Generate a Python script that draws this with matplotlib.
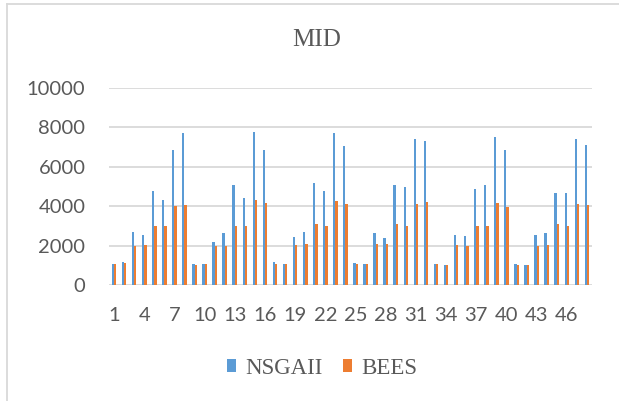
import matplotlib
matplotlib.use("Agg")
import matplotlib.pyplot as plt
from matplotlib.patches import Patch
from matplotlib.lines import Line2D
import numpy as np

categories = list(range(1, 49))
nsgaii = [1070, 1150, 2680, 2525, 4760, 4340, 6860, 7710,
          1050, 1070, 2190, 2660, 5100, 4420, 7760, 6860,
          1150, 1070, 2440, 2680, 5190, 4780, 7710, 7070,
          1100, 1070, 2630, 2370, 5080, 4980, 7410, 7290,
          1070, 1030, 2560, 2510, 4860, 5070, 7510, 6850,
          1050, 1030, 2525, 2660, 4660, 4690, 7390, 7100]
bees = [1050, 1100, 2000, 2030, 2980, 2980, 4020, 4070,
        1020, 1050, 2000, 1980, 2980, 3020, 4290, 4140,
        1070, 1070, 2030, 2070, 3080, 3020, 4270, 4100,
        1070, 1050, 2070, 2080, 3120, 3020, 4100, 4190,
        1070, 1020, 2030, 1980, 2980, 3020, 4150, 3950,
        1020, 1020, 1980, 2030, 3080, 3020, 4120, 4070]
tick_labels = [str(c) for c in categories[::3]]
yticks = [0, 2000, 4000, 6000, 8000, 10000]

W, H = 619, 401
fig = plt.figure(figsize=(W / 100, H / 100), dpi=100)
ax = fig.add_axes([109 / W, 1 - 285 / H, (592 - 109) / W, (285 - 88) / H])

x = np.array(categories, dtype=float)
bw = 0.23
ax.bar(x - bw / 2, nsgaii, width=bw, color="#5B9BD5", zorder=3)
ax.bar(x + bw / 2, bees, width=bw, color="#ED7D31", zorder=3)

ax.set_xlim(0.5, 48.5)
ax.set_ylim(0, 10000)
ax.set_yticks(yticks)
ax.set_yticklabels([str(v) for v in yticks])
ax.set_xticks(categories[::3])
ax.set_xticklabels(tick_labels)
ax.tick_params(axis="both", length=0, labelsize=14.5, labelcolor="#595959")
ax.tick_params(axis="y", pad=17)
ax.tick_params(axis="x", pad=16)
for lab in ax.get_xticklabels() + ax.get_yticklabels():
    lab.set_fontfamily("Lato")
for s in ax.spines.values():
    s.set_visible(False)
ax.grid(axis="y", color="#d9d9d9", linewidth=1.3, zorder=0)
ax.set_axisbelow(True)

fig.text(317 / W, 1 - 40.5 / H, "MID", ha="center", va="center",
         fontsize=18, family="Liberation Serif", color="#595959")

handles = [Patch(facecolor="#5B9BD5", edgecolor="none", label="NSGAII"),
           Patch(facecolor="#ED7D31", edgecolor="none", label="BEES")]
leg = fig.legend(handles=handles, loc="center", bbox_to_anchor=(322 / W, 1 - 368 / H),
                 ncol=2, frameon=False, handlelength=0.4, handleheight=0.5,
                 handletextpad=0.4, columnspacing=0.9,
                 prop={"family": "Liberation Serif", "size": 16.5})
for t in leg.get_texts():
    t.set_color("#595959")

# outer chart border (partially visible)
fig.add_artist(Line2D([7 / W, 7 / W], [0, 1 - 4 / H], transform=fig.transFigure,
                      color="#d9d9d9", linewidth=1.3))
fig.add_artist(Line2D([7 / W, 1], [1 - 4 / H, 1 - 4 / H], transform=fig.transFigure,
                      color="#d9d9d9", linewidth=1.3))

fig.savefig("out.png", dpi=100)
